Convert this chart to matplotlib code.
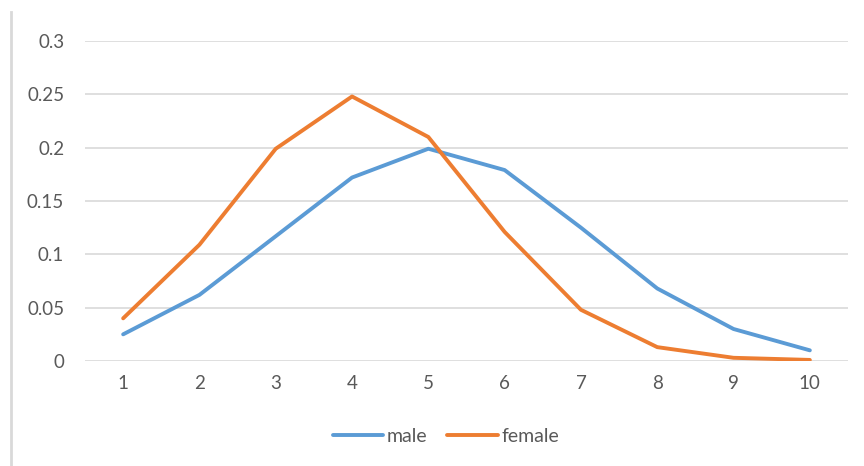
import matplotlib.pyplot as plt
from matplotlib.lines import Line2D

categories = [1, 2, 3, 4, 5, 6, 7, 8, 9, 10]
male = [0.025, 0.062, 0.117, 0.172, 0.199, 0.179, 0.125, 0.068, 0.030, 0.010]
female = [0.040, 0.109, 0.199, 0.248, 0.210, 0.121, 0.048, 0.013, 0.003, 0.001]
y_ticks = [0, 0.05, 0.1, 0.15, 0.2, 0.25, 0.3]
y_labels = ['0', '0.05', '0.1', '0.15', '0.2', '0.25', '0.3']

plt.rcParams['font.family'] = ['Lato', 'DejaVu Sans']

W, H = 864, 466
fig = plt.figure(figsize=(W / 100, H / 100), dpi=100)
ax = fig.add_axes([85 / W, 1 - 361 / H, (848 - 85) / W, (361 - 41) / H])

ax.plot(categories, male, color='#5B9BD5', lw=2.8, solid_capstyle='round', label='male')
ax.plot(categories, female, color='#ED7D31', lw=2.8, solid_capstyle='round', label='female')

ax.set_xlim(0.5, 10.5)
ax.set_ylim(0, 0.3)
ax.set_xticks(categories)
ax.set_xticklabels([str(c) for c in categories])
ax.set_yticks(y_ticks)
ax.set_yticklabels(y_labels)
ax.tick_params(length=0, labelsize=13.5, colors='#595959', pad=10)
ax.tick_params(axis='y', pad=15)
ax.grid(axis='y', color='#D9D9D9', lw=1.2)
ax.set_axisbelow(True)
for s in ax.spines.values():
    s.set_visible(False)

ax.legend(loc='center', bbox_to_anchor=((446 - 85) / 763, (361 - 436) / 320), ncol=2, frameon=False,
          fontsize=14, labelcolor='#595959', handlelength=2.6, handletextpad=0.2,
          columnspacing=1.0)

# chart border on the left
fig.add_artist(Line2D([11 / W, 11 / W], [0, 1 - 12 / H], color='#D9D9D9', lw=2))

fig.savefig('out.png', dpi=100)
